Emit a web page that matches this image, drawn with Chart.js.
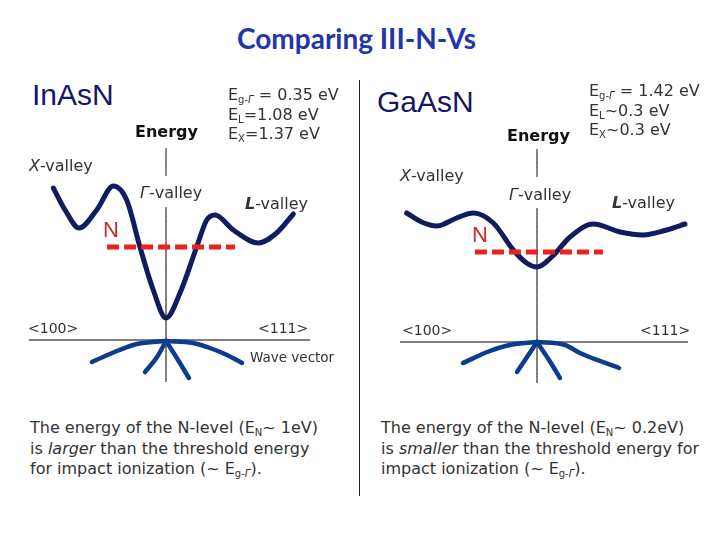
<!DOCTYPE html>
<html>
<head>
<meta charset="utf-8">
<script src="https://cdn.jsdelivr.net/npm/chart.js@4/dist/chart.umd.min.js"></script>
<style>
  body { margin: 0; width: 720px; height: 540px; position: relative; background: #fff; overflow: hidden; }
  .t { position: absolute; white-space: nowrap; font-family: "DejaVu Sans", sans-serif; color: #333; }
  .lbl { font-size: 16px; line-height: 20px; }
  .elab { font-size: 16px; line-height: 19.5px; }
  .mat { font-family: "Liberation Sans", Arial, sans-serif; font-size: 30px; line-height: 36px; color: #161668; }
  .nl { font-family: "Liberation Sans", Arial, sans-serif; font-size: 22px; line-height: 24px; color: #c62a2a; }
  .dir { font-size: 14px; line-height: 20px; }
  .note { font-size: 16px; line-height: 20.5px; }
  sub { font-size: 10px; vertical-align: -3px; line-height: 0; }
  canvas { position: absolute; }
</style>
</head>
<body>
<canvas id="inasn" width="360" height="260" style="left:0;top:140px"></canvas>
<canvas id="gaasn" width="360" height="260" style="left:360px;top:140px"></canvas>
<div style="position:absolute;left:359px;top:80px;width:1px;height:416px;background:#222"></div>

<div class="t" style="left:0;top:21px;width:713px;text-align:center;font-family:Lato,sans-serif;font-weight:bold;font-size:28px;line-height:34px;color:#2236a8">Comparing III-N-Vs</div>

<div class="t mat" style="left:32px;top:77px">InAsN</div>
<div class="t elab" style="left:228px;top:85px">E<sub>g-<i>Γ</i></sub> = 0.35 eV<br>E<sub>L</sub>=1.08 eV<br>E<sub>X</sub>=1.37 eV</div>
<div class="t lbl" style="left:135px;top:122px;font-weight:bold;color:#111">Energy</div>
<div class="t lbl" style="left:29px;top:156px"><i>X</i>-valley</div>
<div class="t lbl" style="left:140px;top:183px"><i>Γ</i>-valley</div>
<div class="t lbl" style="left:245px;top:194px"><i><b>L</b></i>-valley</div>
<div class="t nl" style="left:103px;top:218px">N</div>
<div class="t dir" style="left:28px;top:318px">&lt;100&gt;</div>
<div class="t dir" style="left:258px;top:318px">&lt;111&gt;</div>
<div class="t" style="left:250px;top:349px;font-size:13.5px;line-height:16px">Wave vector</div>
<div class="t note" style="left:30px;top:418px">The energy of the N-level (E<sub>N</sub>~ 1eV)<br>is <i>larger</i> than the threshold energy<br>for impact ionization (~ E<sub>g-<i>Γ</i></sub>).</div>

<div class="t mat" style="left:377px;top:84px">GaAsN</div>
<div class="t elab" style="left:589px;top:81px">E<sub>g-<i>Γ</i></sub> = 1.42 eV<br>E<sub>L</sub>~0.3 eV<br>E<sub>X</sub>~0.3 eV</div>
<div class="t lbl" style="left:507px;top:126px;font-weight:bold;color:#111">Energy</div>
<div class="t lbl" style="left:400px;top:166px"><i>X</i>-valley</div>
<div class="t lbl" style="left:509px;top:185px"><i>Γ</i>-valley</div>
<div class="t lbl" style="left:612px;top:193px"><i><b>L</b></i>-valley</div>
<div class="t nl" style="left:472px;top:223px">N</div>
<div class="t dir" style="left:402px;top:320px">&lt;100&gt;</div>
<div class="t dir" style="left:640px;top:320px">&lt;111&gt;</div>
<div class="t note" style="left:381px;top:418px">The energy of the N-level (E<sub>N</sub>~ 0.2eV)<br>is <i>smaller</i> than the threshold energy for<br>impact ionization (~ E<sub>g-<i>Γ</i></sub>).</div>

<script>
// wave vector (k) and energy (E, arb. eV, valence top = 0)
const inasnCbK = [-0.805, -0.721, -0.621, -0.495, -0.376, -0.281, -0.186, -0.091, 0, 0.10, 0.219, 0.291, 0.35, 0.481, 0.66, 0.79, 0.91];
const inasnCbE = [1.52, 1.30, 1.12, 1.30, 1.54, 1.40, 0.93, 0.50, 0.22, 0.47, 0.93, 1.20, 1.25, 1.10, 0.97, 1.07, 1.26];
const inasnHhLK = [-0.529, -0.45, -0.35, -0.207, 0];
const inasnHhLE = [-0.22, -0.17, -0.11, -0.04, -0.01];
const inasnHhRK = [0, 0.193, 0.314, 0.436, 0.543];
const inasnHhRE = [-0.01, -0.03, -0.08, -0.15, -0.23];
const inasnLhLK = [-0.15, -0.064, 0];
const inasnLhLE = [-0.32, -0.17, -0.01];
const inasnLhRK = [0, 0.086, 0.164];
const inasnLhRE = [-0.01, -0.20, -0.38];
const inasnNK = [-0.421, 0.493];
const inasnNE = [0.93, 0.93];
const inasnAxisK = [-0.979, 1.029];
const inasnAxisTop = [1.92, 1.64];
const inasnAxisLow = [1.33, -0.42];

const gaasnCbK = [-0.931, -0.824, -0.716, -0.574, -0.455, -0.312, -0.169, -0.074, 0, 0.105, 0.236, 0.402, 0.593, 0.759, 0.926, 1.057];
const gaasnCbE = [1.29, 1.20, 1.16, 1.24, 1.29, 1.19, 0.92, 0.79, 0.75, 0.85, 1.05, 1.18, 1.10, 1.07, 1.12, 1.18];
const gaasnHhLK = [-0.529, -0.336, -0.193, 0];
const gaasnHhLE = [-0.21, -0.09, -0.03, 0];
const gaasnHhRK = [0, 0.2, 0.307, 0.586];
const gaasnHhRE = [0, -0.03, -0.11, -0.26];
const gaasnLhLK = [-0.143, -0.071, 0];
const gaasnLhLE = [-0.30, -0.15, 0];
const gaasnLhRK = [0, 0.086, 0.164];
const gaasnLhRE = [0, -0.18, -0.36];
const gaasnNK = [-0.443, 0.471];
const gaasnNE = [0.90, 0.90];
const gaasnAxisK = [-0.979, 1.079];
const gaasnAxisTop = [1.93, 1.65];
const gaasnAxisLow = [1.34, -0.41];

function pts(ks, es) {
  return ks.map((k, i) => ({ x: k, y: es[i] }));
}

const CB = "#111c5e";
const VB = "#0b3c8e";

function line(data, color, width, extra) {
  return Object.assign({
    data: data,
    showLine: true,
    borderColor: color,
    borderWidth: width,
    pointRadius: 0,
    fill: false,
    clip: false,
    borderCapStyle: "round",
    cubicInterpolationMode: "monotone"
  }, extra || {});
}

function bandChart(id, d, xr, yr) {
  new Chart(document.getElementById(id), {
    type: "scatter",
    data: {
      datasets: [
        line(pts(d.nK, d.nE), "#e8221d", 5, { borderDash: [12, 5], borderCapStyle: "butt", cubicInterpolationMode: "default", tension: 0 }),
        line(pts(d.cbK, d.cbE), CB, 5),
        line(pts(d.hhLK, d.hhLE), VB, 4.5),
        line(pts(d.hhRK, d.hhRE), VB, 4.5),
        line(pts(d.lhLK, d.lhLE), VB, 4.5),
        line(pts(d.lhRK, d.lhRE), VB, 4.5),
        line(pts(d.axisK, [0, 0]), "#000", 1, { tension: 0, borderCapStyle: "butt" }),
        line(pts([0, 0], d.axisTop), "#000", 1, { tension: 0, borderCapStyle: "butt" }),
        line(pts([0, 0], d.axisLow), "#000", 1, { tension: 0, borderCapStyle: "butt" })
      ]
    },
    options: {
      responsive: false,
      animation: false,
      layout: { padding: 0 },
      plugins: { legend: { display: false }, tooltip: { enabled: false } },
      scales: {
        x: { type: "linear", min: xr[0], max: xr[1], display: false },
        y: { type: "linear", min: yr[0], max: yr[1], display: false }
      }
    }
  });
}

bandChart("inasn", {
  cbK: inasnCbK, cbE: inasnCbE,
  hhLK: inasnHhLK, hhLE: inasnHhLE, hhRK: inasnHhRK, hhRE: inasnHhRE,
  lhLK: inasnLhLK, lhLE: inasnLhLE, lhRK: inasnLhRK, lhRE: inasnLhRE,
  nK: inasnNK, nE: inasnNE,
  axisK: inasnAxisK, axisTop: inasnAxisTop, axisLow: inasnAxisLow
}, [-1.186, 1.386], [-0.6, 2.0]);

bandChart("gaasn", {
  cbK: gaasnCbK, cbE: gaasnCbE,
  hhLK: gaasnHhLK, hhLE: gaasnHhLE, hhRK: gaasnHhRK, hhRE: gaasnHhRE,
  lhLK: gaasnLhLK, lhLE: gaasnLhLE, lhRK: gaasnLhRK, lhRE: gaasnLhRE,
  nK: gaasnNK, nE: gaasnNE,
  axisK: gaasnAxisK, axisTop: gaasnAxisTop, axisLow: gaasnAxisLow
}, [-1.264, 1.307], [-0.58, 2.02]);
</script>
</body>
</html>
